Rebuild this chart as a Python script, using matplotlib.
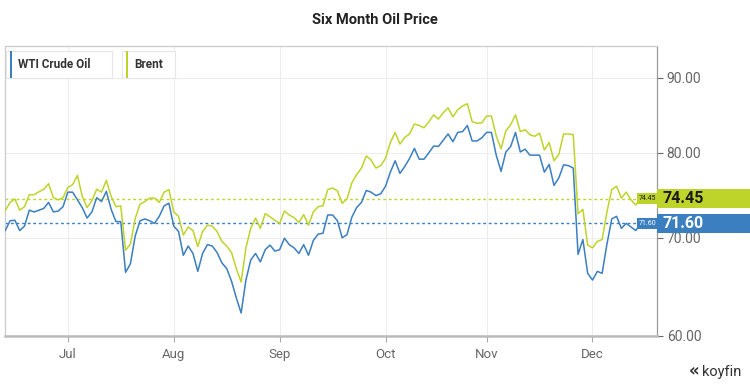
import numpy as np
import pandas as pd
import matplotlib
matplotlib.use("Agg")
import matplotlib.pyplot as plt
from matplotlib.patches import Rectangle
from matplotlib.ticker import FixedLocator, NullLocator, FuncFormatter
from matplotlib.transforms import blended_transform_factory

plt.rcParams['font.family'] = ['Roboto', 'DejaVu Sans']

# weekday axis, Jun 14 - Dec 15 2021
dates = pd.bdate_range('2021-06-14', '2021-12-15')

wti = [
    70.8, 71.9, 71.95, 70.8, 71.3, 73.1, 72.9, 73.1, 73.3, 74.0, 72.9, 73.0, 73.5,
    75.2, 75.2, 74.3, 73.4, 72.2, 72.9, 74.55, 74.1, 75.3, 73.2, 71.8, 71.8, 66.3,
    67.2, 70.2, 71.9, 72.1, 71.9, 71.6, 72.4, 73.6, 73.9,
    71.3, 70.7, 68.1, 69.1, 68.3, 66.4, 68.3, 69.25, 69.1, 68.4, 67.3, 66.7, 65.4,
    63.7, 62.2, 65.5, 67.6, 68.3, 67.4, 68.7, 69.2, 68.55,
    68.7, 69.95, 69.25, 68.9, 68.3, 69.25, 68.1, 69.7, 70.4, 70.5, 72.55, 72.55,
    71.9, 70.0, 70.35, 72.3, 73.4, 74.0, 75.4, 75.2, 74.8, 75.0,
    75.9, 77.6, 79.0, 77.45, 78.3, 79.3, 80.55, 79.2, 79.2, 80.0, 80.85, 80.8,
    81.6, 82.4, 81.4, 82.6, 82.7, 83.5, 81.5, 81.5, 81.9,
    82.6, 82.6, 79.7, 77.7, 80.1, 80.8, 82.6, 80.1, 80.45, 79.7, 79.7, 79.7,
    77.6, 78.55, 76.0, 76.9, 78.5, 78.4, 78.1, 68.2, 69.8, 66.2,
    65.5, 66.4, 66.2, 69.3, 72.1, 72.4, 71.05, 71.6, 71.2, 70.8, 71.6,
]

brent = [
    73.05, 74.0, 74.4, 73.1, 73.5, 74.9, 74.9, 75.25, 75.55, 76.2, 74.55, 74.3, 74.55,
    75.75, 76.1, 77.2, 74.7, 73.4, 74.2, 75.55, 75.2, 76.6, 74.7, 73.5, 73.6, 68.65,
    69.3, 72.15, 73.8, 74.1, 74.5, 74.5, 74.0, 75.2, 75.5,
    72.9, 72.4, 70.3, 71.2, 70.8, 69.05, 70.7, 71.4, 71.3, 70.7, 69.6, 69.1, 68.4,
    66.7, 65.3, 68.9, 71.05, 72.2, 71.05, 72.7, 72.35, 71.95,
    71.6, 73.0, 72.55, 72.25, 71.7, 72.6, 71.4, 72.9, 73.5, 73.6, 75.5, 75.7,
    75.35, 73.9, 74.4, 76.3, 77.3, 78.1, 79.6, 79.1, 78.1, 78.4,
    79.3, 81.3, 82.6, 81.1, 81.95, 82.4, 83.7, 83.5, 83.2, 84.0, 84.9, 84.35,
    85.2, 85.85, 84.65, 85.6, 86.1, 86.4, 84.0, 83.8, 83.85,
    84.75, 84.75, 82.15, 80.5, 82.8, 83.6, 84.9, 82.7, 82.95, 82.3, 82.1, 82.5,
    80.35, 81.3, 79.0, 79.8, 82.4, 82.4, 82.3, 72.7, 73.2, 69.2,
    68.9, 69.6, 69.8, 72.9, 75.5, 75.9, 74.5, 75.2, 74.3, 73.7, 74.45,
]

y_ticks = [60, 70, 80, 90]
series_names = ['WTI Crude Oil', 'Brent']
blue = '#3b7fc0'
green = '#bfd42a'

x = np.arange(len(dates))
month_pos = [i for i in range(1, len(dates)) if dates[i].month != dates[i - 1].month]
month_lab = [dates[i].strftime('%b') for i in month_pos]

fig = plt.figure(figsize=(7.5, 3.87), dpi=100)
ax = fig.add_axes([0.007, 0.132, 0.869, 0.749])

ax.plot(x, wti, color=blue, lw=1.1, zorder=3)
ax.plot(x, brent, color=green, lw=1.1, zorder=3)

ax.set_yscale('log')
ax.set_ylim(60, 94.6)
ax.set_xlim(0, 135.4)
ax.yaxis.set_major_locator(FixedLocator(y_ticks))
ax.yaxis.set_minor_locator(NullLocator())
ax.yaxis.set_major_formatter(FuncFormatter(lambda v, p: f'{v:.2f}'))
ax.yaxis.tick_right()
ax.set_xticks(month_pos)
ax.set_xticklabels(month_lab)

ax.grid(True, color='#ededed', lw=0.8, zorder=0)
ax.tick_params(axis='y', colors='#666666', labelsize=10, length=4, width=0.8, pad=3)
ax.tick_params(axis='x', colors='#aaaaaa', labelcolor='#666666', labelsize=9.5, length=4, width=0.8, pad=5)
for side in ['left', 'top']:
    ax.spines[side].set_color('#cccccc')
    ax.spines[side].set_linewidth(0.9)
ax.spines['right'].set_color('#999999')
ax.spines['right'].set_linewidth(0.9)
ax.spines['bottom'].set_color('#bbbbbb')
ax.spines['bottom'].set_linewidth(1.8)

# last value lines and labels
tr = blended_transform_factory(ax.transAxes, ax.transData)
for vals, col, tcol in [(brent, green, '#1a1a1a'), (wti, blue, 'white')]:
    v = vals[-1]
    ax.axhline(v, xmin=0, xmax=0.968, color=col, lw=1.0, ls=(0, (2, 2)), zorder=2)
    ax.text(0.9985, v, f'{v:.2f}', transform=tr, ha='right', va='center', fontsize=5,
            color=tcol, zorder=4,
            bbox=dict(boxstyle='square,pad=0.25', fc=col, ec='none'))
    lo, hi = v * np.exp(-9.5 / 637), v * np.exp(9.5 / 637)
    ax.add_patch(Rectangle((1.0, lo), 0.16, hi - lo, transform=tr, fc=col, ec='none',
                           clip_on=False, zorder=5))
    ax.text(1.008, v, f'{v:.2f}', transform=tr, ha='left', va='center', fontsize=11.5,
            fontweight='bold', color=tcol, zorder=6, clip_on=False)

# legend boxes
def legend_box(x0, x1, label, col):
    fx0, fx1 = x0 / 750, x1 / 750
    fy0, fy1 = 1 - 78 / 387, 1 - 51 / 387
    fig.patches.append(Rectangle((fx0, fy0), fx1 - fx0, fy1 - fy0, transform=fig.transFigure,
                                 fc='white', ec='#e6e6e6', lw=0.8, zorder=5))
    fig.patches.append(Rectangle((fx0 + 4 / 750, fy0), 2.2 / 750, fy1 - fy0, transform=fig.transFigure,
                                 fc=col, ec='none', zorder=6))
    fig.text(fx0 + 12 / 750, (fy0 + fy1) / 2, label, ha='left', va='center', fontsize=8.5,
             fontweight='bold', color='#333333', zorder=7)

legend_box(6, 112, series_names[0], blue)
legend_box(122, 175, series_names[1], green)

fig.text(0.5, 1 - 20 / 387, 'Six Month Oil Price', ha='center', va='center', fontsize=10.5,
         fontweight='bold', color='#222222')
fig.text(741 / 750, 1 - 372 / 387, 'koyfin', ha='right', va='center', fontsize=10.5, color='#333333')
fig.text(699 / 750, 1 - 371 / 387, '\u00ab', ha='right', va='center', fontsize=12, color='#333333',
         family='DejaVu Sans', fontweight='bold')

fig.savefig('out.png', dpi=100)
